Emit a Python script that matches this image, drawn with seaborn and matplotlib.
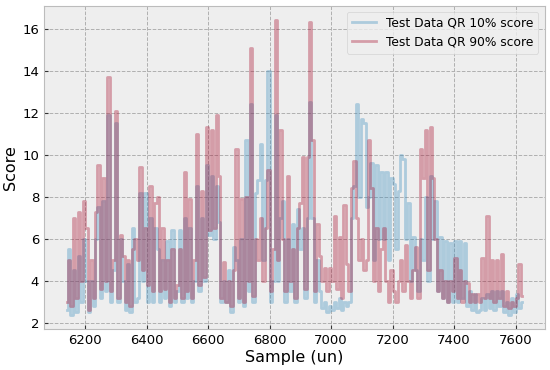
import numpy as np
import pandas as pd
import matplotlib
matplotlib.use("Agg")
import matplotlib.pyplot as plt
import seaborn as sns

# sample index (un), every 8th sample
samples = list(range(6140, 7621, 8))

# QR 10% score
q10_score = [
    2.6, 5.5, 2.4, 4.5, 2.5, 5.2, 3.0, 6.0, 4.0, 2.5,
    4.0, 2.8, 6.0, 7.5, 3.2, 7.8, 3.5, 11.9, 3.0, 4.5,
    11.5, 3.0, 6.0, 4.0, 2.6, 4.8, 2.5, 6.5, 3.0, 3.2,
    8.2, 4.0, 8.2, 3.0, 7.0, 3.0, 6.5, 5.5, 3.0, 5.0,
    3.2, 5.9, 2.8, 6.4, 3.0, 3.5, 6.4, 3.0, 7.0, 3.2,
    6.5, 3.0, 4.0, 8.5, 3.5, 7.0, 4.0, 9.5, 6.2, 9.0,
    6.0, 8.5, 6.8, 3.0, 4.0, 3.0, 4.5, 2.5, 5.6, 5.0,
    3.0, 6.0, 2.8, 10.7, 3.5, 12.4, 3.0, 8.2, 8.8, 10.5,
    5.0, 8.8, 14.0, 3.0, 4.0, 11.9, 4.0, 7.0, 7.8, 3.0,
    6.0, 3.5, 6.7, 3.0, 7.4, 5.5, 6.5, 3.2, 7.0, 12.5,
    7.0, 3.0, 5.0, 3.5, 2.7, 3.0, 2.5, 2.8, 2.6, 3.0,
    2.7, 3.2, 2.6, 3.0, 2.8, 3.0, 7.0, 8.5, 12.4, 8.0,
    11.7, 11.5, 7.5, 8.0, 9.6, 5.0, 9.5, 6.0, 9.2, 6.0,
    9.2, 5.0, 8.9, 8.6, 5.5, 8.3, 10.0, 9.8, 6.0, 7.7,
    4.0, 6.1, 4.5, 3.5, 6.0, 5.0, 8.0, 4.0, 9.0, 6.0,
    7.8, 3.5, 6.1, 3.2, 5.9, 3.0, 5.8, 3.0, 5.9, 3.0,
    5.9, 3.2, 5.8, 2.8, 3.5, 2.6, 3.4, 2.5, 2.6, 3.2,
    2.6, 3.4, 2.7, 3.5, 2.6, 3.5, 2.8, 3.5, 2.5, 3.0,
    2.4, 3.2, 2.5, 3.4, 2.7, 3.0,
]

# QR 90% score
q90_score = [
    3.0, 5.0, 2.8, 7.0, 3.2, 7.3, 4.0, 7.8, 6.5, 2.6,
    5.0, 3.2, 7.3, 9.5, 3.6, 8.9, 4.0, 13.7, 3.5, 5.0,
    12.1, 3.2, 6.2, 5.2, 3.0, 5.0, 2.8, 5.5, 6.0, 5.0,
    9.4, 4.5, 6.5, 3.8, 8.5, 3.5, 7.7, 8.0, 3.5, 6.5,
    3.6, 5.0, 3.0, 5.5, 3.2, 3.8, 5.5, 3.2, 9.2, 3.5,
    7.9, 3.2, 5.0, 11.0, 3.8, 8.3, 4.2, 11.3, 6.4, 11.2,
    6.5, 11.9, 9.0, 3.2, 4.9, 3.0, 4.0, 2.8, 4.5, 10.3,
    3.2, 7.9, 3.0, 8.0, 4.0, 15.1, 3.3, 6.0, 5.0, 7.0,
    4.0, 6.5, 9.3, 3.5, 5.5, 16.4, 5.0, 11.2, 6.0, 3.5,
    9.0, 4.0, 5.5, 3.2, 6.5, 7.7, 9.9, 3.6, 9.9, 16.3,
    10.7, 3.5, 6.7, 5.2, 4.0, 4.6, 3.5, 4.6, 4.0, 7.1,
    3.6, 6.1, 3.2, 7.6, 4.8, 3.5, 8.4, 9.7, 7.0, 5.0,
    6.0, 4.5, 5.0, 10.7, 8.4, 4.0, 6.5, 3.5, 5.5, 6.5,
    4.0, 3.0, 4.5, 3.5, 3.0, 4.0, 5.0, 3.5, 5.7, 4.0,
    3.2, 4.5, 5.6, 3.2, 10.3, 8.9, 11.2, 4.5, 11.3, 8.9,
    6.0, 3.5, 4.5, 3.2, 4.0, 3.0, 4.0, 3.5, 5.1, 3.2,
    4.5, 3.0, 4.0, 3.9, 3.0, 3.4, 3.0, 3.4, 3.0, 5.1,
    3.2, 7.1, 3.2, 5.0, 3.0, 5.0, 3.2, 5.3, 2.8, 3.5,
    2.7, 3.0, 2.8, 3.2, 4.8, 3.3,
]

df = pd.DataFrame({"sample": samples, "q10": q10_score, "q90": q90_score})

plt.style.use("bmh")
fig, ax = plt.subplots(figsize=(5.5, 3.7), dpi=100)

sns.lineplot(data=df, x="sample", y="q10", ax=ax, color="#348ABD",
             alpha=0.35, linewidth=2.0, drawstyle="steps-mid",
             label="Test Data QR 10% score")
sns.lineplot(data=df, x="sample", y="q90", ax=ax, color="#A60628",
             alpha=0.35, linewidth=2.0, drawstyle="steps-mid",
             label="Test Data QR 90% score")

ax.grid(True, linestyle="--", color="#b0b0b0", linewidth=0.7)
ax.tick_params(axis="both", length=3, color="#333333", labelsize=9.5)
ax.set_xlabel("Sample (un)", fontsize=11.5, labelpad=2)
ax.set_ylabel("Score", fontsize=11.5, labelpad=3)
ax.legend(loc="upper right", fontsize=8.8)

fig.subplots_adjust(left=0.08, right=0.99, top=0.985, bottom=0.11)
fig.savefig("out.png", dpi=100)
